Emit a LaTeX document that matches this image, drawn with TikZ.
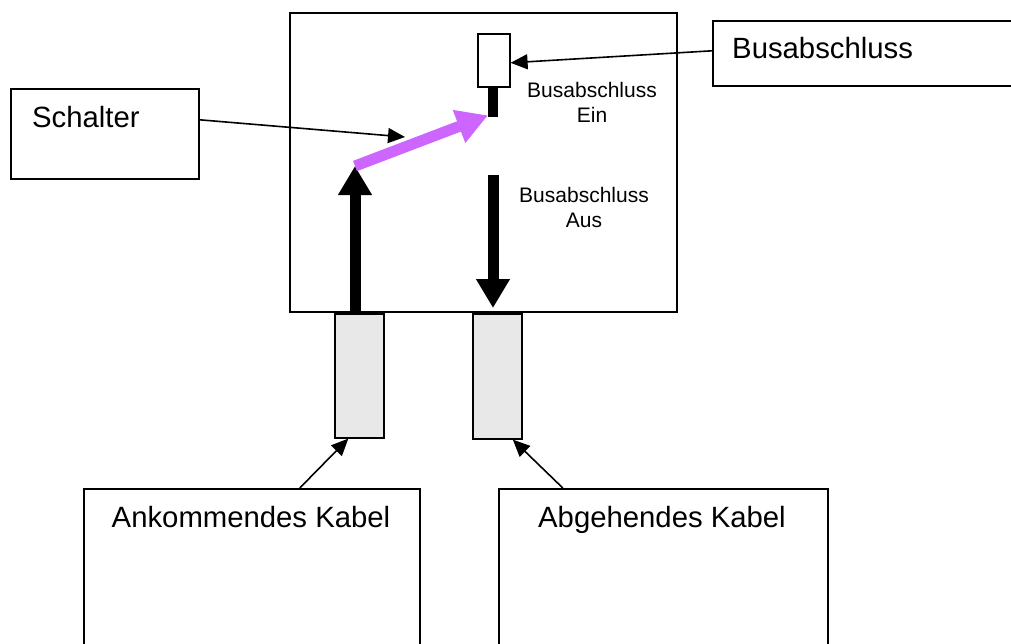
\documentclass[tikz,border=0pt]{standalone}
\usepackage{fontspec}
\setmainfont{Liberation Sans}
\usetikzlibrary{arrows.meta}
\definecolor{switchpink}{HTML}{CC66FF}
\definecolor{cablegray}{HTML}{E8E8E8}
\begin{document}
\begin{tikzpicture}[x=1pt,y=-1pt,
  box/.style={draw,line width=1.6pt,inner sep=0pt,anchor=north west},
  cable/.style={box,fill=cablegray},
  bigtext/.style={inner sep=0pt,font=\fontsize{29.3}{35}\selectfont},
  smalltext/.style={inner sep=0pt,align=center,font=\fontsize{21}{25}\selectfont},
  thinarrow/.style={line width=1.6pt,-{Triangle[length=17pt,width=15pt]}},
  thickarrow/.style={line width=11pt,-{Triangle[length=29pt,width=32pt]}},
  pinkarrow/.style={draw=switchpink,line width=11pt,-{Triangle[length=31pt,width=33pt]}}]
\useasboundingbox (0,0) rectangle (1011,643);
\clip (0,0) rectangle (1011,643);
% housing
\node[box,minimum width=387pt,minimum height=299pt] (housing) at (289,12) {};
% terminator and stub
\node[box,minimum width=32pt,minimum height=53pt] (term) at (477,33) {};
\node[inner sep=0pt,fill=black,anchor=north west,minimum width=10pt,minimum height=31pt] (stub) at (488,86) {};
% cables
\node[cable,minimum width=49pt,minimum height=124pt] (cableL) at (334,313) {};
\node[cable,minimum width=49pt,minimum height=125pt] (cableR) at (472,313) {};
% label boxes
\node[box,minimum width=188pt,minimum height=90pt] (schalter) at (10,88) {};
\node[box,minimum width=330pt,minimum height=65pt] (busbox) at (712,20) {};
\node[box,minimum width=336pt,minimum height=180pt] (ank) at (83,488) {};
\node[box,minimum width=329pt,minimum height=180pt] (abg) at (498,488) {};
% texts
\node[bigtext,anchor=base west] (tschalter) at (32,127) {Schalter};
\node[bigtext,anchor=base west] (tbus) at (732,58) {Busabschluss};
\node[bigtext,anchor=base] (tank) at (251,527) {Ankommendes Kabel};
\node[bigtext,anchor=base] (tabg) at (662,527) {Abgehendes Kabel};
\node[smalltext] (tein) at (592,102) {Busabschluss\\Ein};
\node[smalltext] (taus) at (584,207) {Busabschluss\\Aus};
% coordinates
\coordinate (upstart) at (355,311);
\coordinate (uptip) at (355,166);
\coordinate (downstart) at (493,175);
\coordinate (downtip) at (493,308);
\coordinate (schaltertip) at (405,137);
% arrows
\draw[thickarrow] (upstart) -- (uptip);
\draw[thickarrow] (downstart) -- (downtip);
\draw[pinkarrow] (uptip) -- ([yshift=2pt]stub.south west);
\draw[thinarrow] ([yshift=14pt]schalter.east) -- (schaltertip);
\draw[thinarrow] ([yshift=2.5pt]busbox.west) -- ([yshift=-2.5pt]term.east);
\draw[thinarrow] ([xshift=48pt]ank.north) -- ([xshift=-11pt]cableL.south);
\draw[thinarrow] ([xshift=-100.5pt]abg.north) -- ([xshift=15.5pt]cableR.south);
\end{tikzpicture}
\end{document}
